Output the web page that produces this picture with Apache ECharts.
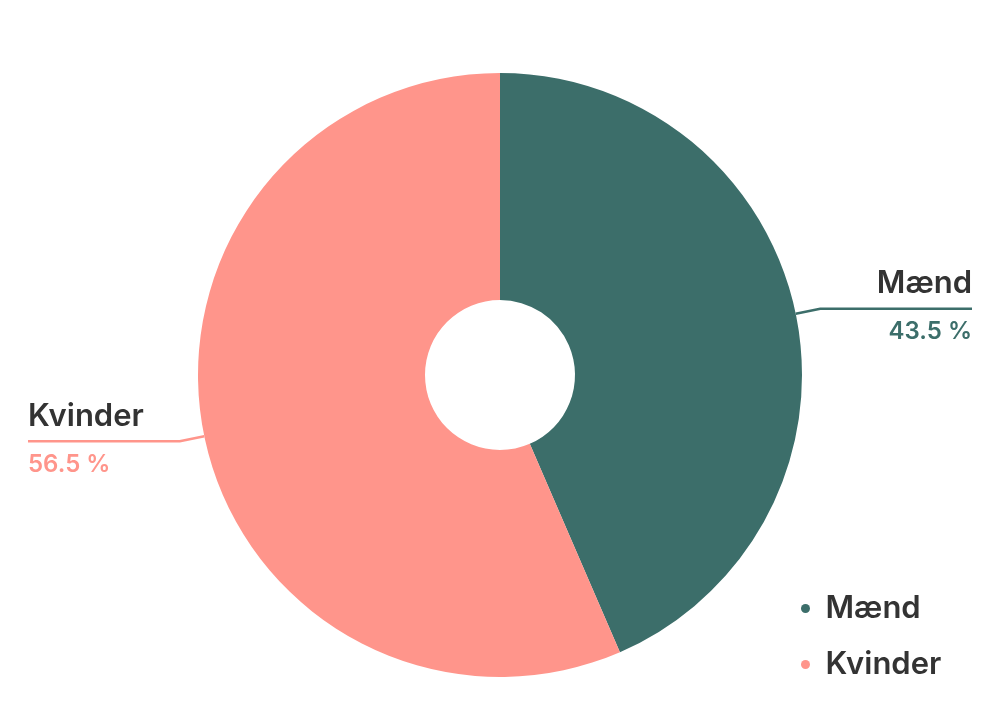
<!DOCTYPE html>
<html>
<head>
<meta charset="utf-8">
<script src="https://cdn.jsdelivr.net/npm/echarts@6/dist/echarts.min.js"></script>
<style>
  html, body { margin: 0; padding: 0; background: #fff; }
  #chart { width: 1000px; height: 728px; }
</style>
</head>
<body>
<div id="chart"></div>
<script>
var names = ['Mænd', 'Kvinder']
var values = [43.5, 56.5]
var colors = ['#3c6e6a', '#ff958b']

var chart = echarts.init(document.getElementById('chart'))

var font = 'Inter'

chart.setOption({
  animation: false,
  color: colors,
  legend: {
    orient: 'vertical',
    left: 796,
    top: 588,
    icon: 'circle',
    itemWidth: 30,
    itemHeight: 9,
    itemGap: 25,
    data: names,
    textStyle: {
      fontFamily: font,
      fontSize: 31,
      fontWeight: 600,
      color: '#333',
      lineHeight: 30
    }
  },
  series: [{
    type: 'pie',
    center: [500, 375],
    radius: [75, 302],
    startAngle: 90,
    clockwise: true,
    data: names.map(function (n, i) {
      return { name: n, value: values[i] }
    }),
    label: {
      alignTo: 'edge',
      edgeDistance: 28,
      formatter: function (p) {
        return '{name|' + p.name + '}\n{v' + p.dataIndex + '|' + p.value + ' %}'
      },
      rich: {
        name: { fontFamily: font, fontSize: 31, fontWeight: 600, color: '#333', lineHeight: 30, padding: [0, 0, 20, 0] },
        v0: { fontFamily: font, fontSize: 24, fontWeight: 600, color: colors[0], lineHeight: 30, padding: [17, 0, 0, 0] },
        v1: { fontFamily: font, fontSize: 24, fontWeight: 600, color: colors[1], lineHeight: 30, padding: [17, 0, 0, 0] }
      }
    },
    labelLine: {
      length: 25,
      length2: 0,
      maxSurfaceAngle: 80,
      lineStyle: { width: 2.5 }
    },
    labelLayout: function (params) {
      var isLeft = params.labelRect.x < chart.getWidth() / 2
      var points = params.labelLinePoints
      points[2][0] = isLeft ? params.labelRect.x : params.labelRect.x + params.labelRect.width
      return { labelLinePoints: points }
    }
  }]
})
</script>
</body>
</html>
